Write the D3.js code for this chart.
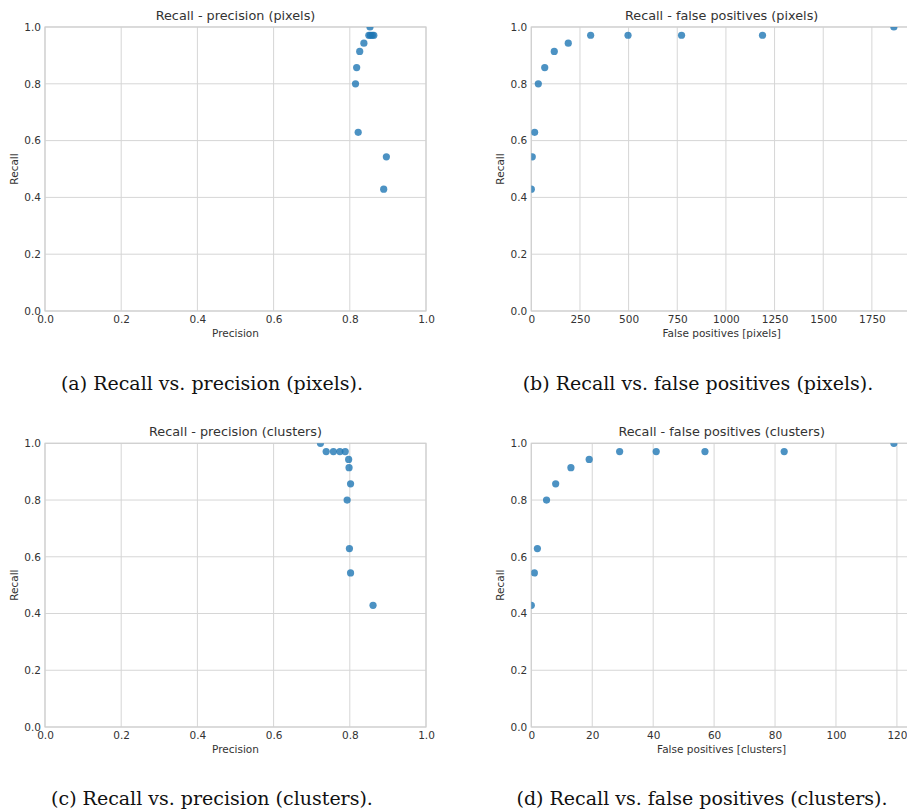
<!DOCTYPE html>
<html>
<head>
<meta charset="utf-8">
<script src="https://cdn.jsdelivr.net/npm/d3@7"></script>
<style>
  body { margin: 0; background: #fff; }
  svg text { font-family: "DejaVu Sans", sans-serif; fill: #333; }
  .caption { font-family: "DejaVu Serif", serif; fill: #111; }
</style>
</head>
<body>
<svg id="fig" width="907" height="810"></svg>
<script>
// values (same 12 thresholds in every panel)
const recall = [0.429, 0.543, 0.629, 0.800, 0.857, 0.914, 0.943, 0.971, 0.971, 0.971, 0.971, 1.000];
const pxPrecision = [0.889, 0.896, 0.822, 0.815, 0.818, 0.826, 0.837, 0.863, 0.859, 0.854, 0.850, 0.853];
const pxFalsePos = [0, 5, 17, 36, 69, 118, 190, 305, 497, 772, 1188, 1863];
const clPrecision = [0.861, 0.802, 0.799, 0.793, 0.802, 0.798, 0.797, 0.788, 0.774, 0.757, 0.738, 0.723];
const clFalsePos = [0, 1, 2, 5, 8, 13, 19, 29, 41, 57, 83, 119];

const unitTicks = [0, 0.2, 0.4, 0.6, 0.8, 1.0];
const pxFpTicks = [0, 250, 500, 750, 1000, 1250, 1500, 1750];
const clFpTicks = [0, 20, 40, 60, 80, 100, 120];

const svg = d3.select("#fig");

function panel(id, left, right, top, bottom, xs, ys, xDomain, xTicks, xFmt, title, xLabel, caption, capX, capY) {
  const x = d3.scaleLinear().domain(xDomain).range([left, right]);
  const y = d3.scaleLinear().domain([0, 1]).range([bottom, top]);
  const g = svg.append("g");

  g.append("clipPath").attr("id", "clip" + id)
    .append("rect").attr("x", left).attr("y", top)
    .attr("width", right - left).attr("height", bottom - top);

  // grid
  g.selectAll(".vg").data(xTicks).enter().append("line")
    .attr("x1", d => x(d)).attr("x2", d => x(d))
    .attr("y1", top).attr("y2", bottom)
    .attr("stroke", "#d6d6d6").attr("stroke-width", 1);
  g.selectAll(".hg").data(unitTicks).enter().append("line")
    .attr("x1", left).attr("x2", right)
    .attr("y1", d => y(d)).attr("y2", d => y(d))
    .attr("stroke", "#d6d6d6").attr("stroke-width", 1);
  g.append("rect").attr("x", left).attr("y", top)
    .attr("width", right - left).attr("height", bottom - top)
    .attr("fill", "none").attr("stroke", "#d0d0d0").attr("stroke-width", 1.2);

  // axes (labels only, no tick marks)
  const xa = g.append("g").attr("transform", "translate(0," + bottom + ")")
    .call(d3.axisBottom(x).tickValues(xTicks).tickFormat(xFmt).tickSize(0).tickPadding(5));
  const ya = g.append("g").attr("transform", "translate(" + left + ",0)")
    .call(d3.axisLeft(y).tickValues(unitTicks).tickFormat(d3.format(".1f")).tickSize(0).tickPadding(4));
  [xa, ya].forEach(a => {
    a.select(".domain").remove();
    a.selectAll("text").attr("font-size", 10.5).attr("fill", "#333")
      .style("font-family", "DejaVu Sans, sans-serif");
  });

  // points
  g.append("g").attr("clip-path", "url(#clip" + id + ")")
    .selectAll("circle").data(xs).enter().append("circle")
    .attr("cx", d => x(d))
    .attr("cy", (d, i) => y(ys[i]))
    .attr("r", 3.6)
    .attr("fill", "#1f77b4")
    .attr("fill-opacity", 0.8);

  g.append("text").attr("x", (left + right) / 2).attr("y", top - 7)
    .attr("text-anchor", "middle").attr("font-size", 12.8).text(title);
  g.append("text").attr("x", (left + right) / 2).attr("y", bottom + 26)
    .attr("text-anchor", "middle").attr("font-size", 10.5).text(xLabel);
  g.append("text")
    .attr("transform", "translate(" + (left - 27) + "," + ((top + bottom) / 2) + ") rotate(-90)")
    .attr("text-anchor", "middle").attr("font-size", 10.5).text("Recall");

  svg.append("text").attr("class", "caption")
    .attr("x", capX).attr("y", capY).attr("text-anchor", "middle")
    .attr("font-size", 19).text(caption);
}

panel("a", 45, 426, 27, 311, pxPrecision, recall, [0, 1], unitTicks, d3.format(".1f"),
  "Recall - precision (pixels)", "Precision", "(a) Recall vs. precision (pixels).", 212, 390);
panel("b", 531.3, 912, 27, 311, pxFalsePos, recall, [0, 1863 * 1.05], pxFpTicks, d3.format("d"),
  "Recall - false positives (pixels)", "False positives [pixels]", "(b) Recall vs. false positives (pixels).", 698, 390);
panel("c", 45, 426, 443.3, 727, clPrecision, recall, [0, 1], unitTicks, d3.format(".1f"),
  "Recall - precision (clusters)", "Precision", "(c) Recall vs. precision (clusters).", 212, 805);
panel("d", 531.3, 912, 443.3, 727, clFalsePos, recall, [0, 119 * 1.05], clFpTicks, d3.format("d"),
  "Recall - false positives (clusters)", "False positives [clusters]", "(d) Recall vs. false positives (clusters).", 702, 805);
</script>
</body>
</html>
